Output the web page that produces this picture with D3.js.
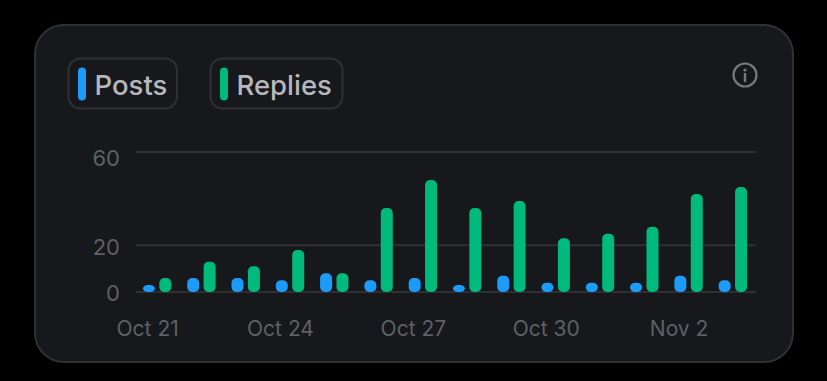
<!DOCTYPE html>
<html>
<head>
<meta charset="utf-8">
<style>
  html, body { margin: 0; padding: 0; background: #000; }
  svg { display: block; }
  text { font-family: Inter, "Noto Sans", sans-serif; }
  .domain { display: none; }
</style>
<script src="https://cdn.jsdelivr.net/npm/d3@7"></script>
</head>
<body>
<div id="chart"></div>
<script>
// values
var days = ["Oct 21", "Oct 22", "Oct 23", "Oct 24", "Oct 25", "Oct 26", "Oct 27",
            "Oct 28", "Oct 29", "Oct 30", "Oct 31", "Nov 1", "Nov 2", "Nov 3"];
var posts = [3, 6, 6, 5, 8, 5, 6, 3, 7, 4, 4, 4, 7, 5];
var replies = [6, 13, 11, 18, 8, 36, 48, 36, 39, 23, 25, 28, 42, 45];
var yTicks = [0, 20, 60];
var xTicks = ["Oct 21", "Oct 24", "Oct 27", "Oct 30", "Nov 2"];
var seriesNames = ["Posts", "Replies"];

var colors = {Posts: "#1d9bf9", Replies: "#00ba7c"};
var width = 827, height = 381;

var svg = d3.select("#chart")
  .append("svg")
    .attr("width", width)
    .attr("height", height);

// card
svg.append("rect")
    .attr("x", 35).attr("y", 25)
    .attr("width", 758).attr("height", 337)
    .attr("rx", 29)
    .attr("fill", "#17181c")
    .attr("stroke", "#2f3034")
    .attr("stroke-width", 2);

// scales
var x = d3.scaleBand().domain(days).range([135, 755]);
var y = d3.scaleLinear().domain([0, 60]).range([292, 152]);

// grid lines
svg.append("g")
  .selectAll("line")
  .data(yTicks)
  .enter().append("line")
    .attr("x1", 136).attr("x2", 756)
    .attr("y1", function(d) { return y(d); })
    .attr("y2", function(d) { return y(d); })
    .attr("stroke", "#2f3034")
    .attr("stroke-width", 2);

// y axis, the labels sit a little below their lines
var labelShift = {0: 0, 20: 1, 60: 5};
var yAxis = svg.append("g")
    .attr("transform", "translate(120,0)")
    .call(d3.axisLeft(y).tickValues(yTicks).tickSize(0).tickPadding(0));
yAxis.selectAll("text")
    .attr("dy", function(d) { return labelShift[d] + 8; })
    .attr("fill", "#5e6065")
    .style("font-size", "22px");

// x axis, the labels line up with the blue bar of their day
var xAxis = svg.append("g")
    .attr("transform", "translate(-9.5,318)")
    .call(d3.axisBottom(x).tickValues(xTicks).tickSize(0).tickPadding(0));
xAxis.selectAll("text")
    .attr("dy", 18)
    .attr("fill", "#5e6065")
    .style("font-size", "21px");

// bars
function drawBars(values, name, offset) {
  svg.append("g")
    .selectAll("rect")
    .data(values)
    .enter().append("rect")
      .attr("x", function(d, i) { return x(days[i]) + x.bandwidth() / 2 + offset - 6; })
      .attr("y", function(d) { return y(d); })
      .attr("width", 12)
      .attr("height", function(d) { return y(0) - y(d); })
      .attr("rx", 5)
      .attr("fill", colors[name]);
}
drawBars(posts, "Posts", -8.2);
drawBars(replies, "Replies", 8.2);

// legend
var legendBoxes = {Posts: [68.5, 108.5], Replies: [210.5, 132]};
seriesNames.forEach(function(name) {
  var box = legendBoxes[name];
  var g = svg.append("g").attr("transform", "translate(" + box[0] + ",58.5)");
  g.append("rect")
      .attr("width", box[1]).attr("height", 50)
      .attr("rx", 12)
      .attr("fill", "none")
      .attr("stroke", "#2f3034")
      .attr("stroke-width", 2);
  g.append("rect")
      .attr("x", 9.5).attr("y", 9)
      .attr("width", 8).attr("height", 33)
      .attr("rx", 4)
      .attr("fill", colors[name]);
  g.append("text")
      .attr("x", 26).attr("y", 36)
      .attr("fill", "#b6b7bb")
      .style("font-size", "27.5px")
      .style("font-weight", 500)
      .text(name);
});

// info icon
var info = svg.append("g").attr("transform", "translate(745,75)");
info.append("circle")
    .attr("r", 11.5)
    .attr("fill", "none")
    .attr("stroke", "#78797d")
    .attr("stroke-width", 2.2);
info.append("circle")
    .attr("cy", -5)
    .attr("r", 1.6)
    .attr("fill", "#78797d");
info.append("line")
    .attr("y1", -1).attr("y2", 6)
    .attr("stroke", "#78797d")
    .attr("stroke-width", 2.4)
    .attr("stroke-linecap", "round");
</script>
</body>
</html>
